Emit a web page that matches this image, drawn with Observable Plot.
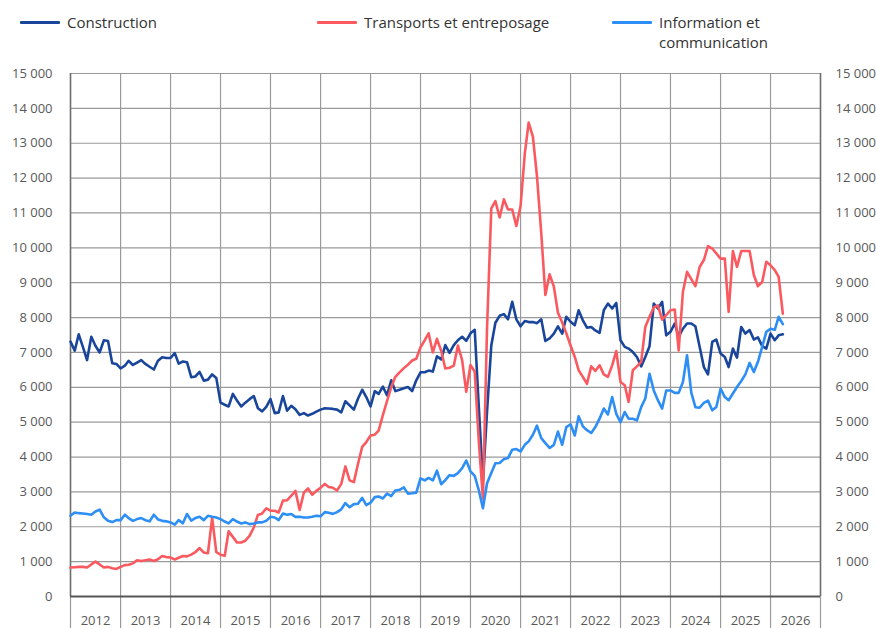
<!DOCTYPE html>
<html><head><meta charset="utf-8">
<script src="https://cdn.jsdelivr.net/npm/d3@7"></script>
<script src="https://cdn.jsdelivr.net/npm/@observablehq/plot@0.6"></script>
<style>
body{margin:0;background:#fff;font-family:"Open Sans",sans-serif;}
#legend{position:relative;height:55px;width:876px;}
.item{position:absolute;top:12px;display:flex;align-items:flex-start;font-size:15px;color:#333;line-height:20px;}
.sw{width:40px;height:3px;margin-top:9px;margin-right:7px;border-radius:1px;flex:none;}
#chart svg{display:block;}
</style></head><body>
<div id="legend"></div>
<div id="chart"></div>
<script>
// Monthly values, January 2012 – April 2026
const construction = [
  7310, 7050, 7520, 7150, 6780, 7450, 7190, 7000, 7350, 7330, 6690, 6670,
  6540, 6620, 6760, 6640, 6710, 6780, 6670, 6590, 6510, 6760, 6860, 6840,
  6840, 6980, 6680, 6740, 6720, 6290, 6310, 6440, 6190, 6220, 6370, 6270,
  5560, 5500, 5450, 5810, 5620, 5450, 5560, 5660, 5750, 5400, 5310, 5440,
  5660, 5260, 5280, 5750, 5330, 5470, 5370, 5210, 5260, 5190, 5240, 5300,
  5360, 5400, 5390, 5380, 5360, 5280, 5600, 5480, 5360, 5670, 5930, 5720,
  5450, 5890, 5810, 6020, 5770, 6200, 5890, 5930, 5970, 6010, 5890, 6200,
  6430, 6430, 6480, 6450, 6890, 6800, 7210, 6990, 7210, 7350, 7450, 7330,
  7550, 7650, 5500, 3300, 5300, 7200, 7850, 8050, 8100, 7950, 8450, 7950,
  7750, 7900, 7870, 7870, 7840, 7950, 7330, 7400, 7540, 7750, 7540, 8020,
  7880, 7780, 8210, 7920, 7710, 7730, 7630, 7560, 8210, 8400, 8260, 8420,
  7350, 7160, 7110, 7010, 6870, 6600, 6870, 7180, 8400, 8260, 8450, 7490,
  7590, 7830, 7450, 7680, 7830, 7830, 7750, 7160, 6580, 6370, 7300, 7370,
  6970, 6870, 6580, 7110, 6850, 7730, 7540, 7640, 7370, 7430, 7180, 7110,
  7540, 7350, 7490, 7520
];
const transports = [
  830, 840, 850, 850, 830, 920, 1000, 920, 830, 850, 810, 790,
  850, 900, 910, 950, 1040, 1020, 1040, 1060, 1020, 1070, 1160, 1130,
  1120, 1060, 1110, 1160, 1150, 1200, 1270, 1390, 1260, 1240, 2260, 1270,
  1200, 1170, 1870, 1710, 1550, 1550, 1600, 1740, 1980, 2340, 2380, 2530,
  2460, 2460, 2410, 2750, 2760, 2890, 3030, 2480, 2980, 3100, 2920, 3030,
  3120, 3230, 3140, 3120, 3040, 3230, 3730, 3330, 3280, 3800, 4290, 4430,
  4620, 4640, 4760, 5200, 5600, 6000, 6300, 6430, 6550, 6650, 6770, 6820,
  7150, 7350, 7550, 7000, 7390, 7050, 6540, 6560, 6620, 7200, 6780, 5870,
  6640, 6450, 4500, 2800, 7700, 11130, 11340, 10870, 11390, 11100, 11100, 10630,
  11200, 12710, 13590, 13190, 12040, 10420, 8650, 9240, 8890, 8140, 7860, 7550,
  7200, 6870, 6490, 6300, 6100, 6600, 6470, 6630, 6370, 6300, 6630, 7040,
  6150, 6060, 5580, 6490, 6600, 6730, 7730, 8020, 8290, 8350, 7940, 8070,
  8210, 8230, 7060, 8740, 9310, 9100, 8900, 9450, 9650, 10050, 9980, 9840,
  9690, 9690, 8160, 9910, 9450, 9910, 9910, 9910, 9220, 8900, 9020, 9600,
  9500, 9360, 9170, 8110
];
const information = [
  2320, 2410, 2390, 2380, 2365, 2345, 2440, 2490, 2270, 2170, 2135, 2190,
  2190, 2345, 2250, 2170, 2220, 2250, 2190, 2155, 2345, 2210, 2170, 2155,
  2125, 2060, 2190, 2100, 2365, 2175, 2250, 2285, 2190, 2315, 2285, 2265,
  2220, 2150, 2095, 2220, 2150, 2095, 2125, 2075, 2095, 2125, 2125, 2170,
  2285, 2265, 2190, 2380, 2345, 2365, 2285, 2285, 2265, 2265, 2285, 2315,
  2300, 2420, 2400, 2370, 2420, 2500, 2680, 2560, 2650, 2660, 2830, 2620,
  2690, 2850, 2870, 2810, 2950, 2880, 3040, 3060, 3130, 2950, 2960, 2980,
  3390, 3330, 3400, 3330, 3610, 3220, 3340, 3480, 3460, 3540, 3680, 3900,
  3590, 3460, 3060, 2530, 3250, 3540, 3820, 3830, 3940, 3970, 4210, 4230,
  4160, 4350, 4450, 4640, 4900, 4540, 4400, 4260, 4350, 4730, 4350, 4860,
  4940, 4620, 5170, 4880, 4770, 4690, 4860, 5100, 5390, 5220, 5720, 5240,
  5000, 5290, 5100, 5100, 5050, 5430, 5680, 6390, 5910, 5630, 5390, 5910,
  5910, 5840, 5840, 6150, 6920, 5850, 5430, 5415, 5550, 5620, 5340, 5435,
  5960, 5720, 5630, 5820, 6010, 6180, 6370, 6700, 6440, 6730, 7160, 7590,
  7680, 7650, 8020, 7810
];
const seriesNames = ["Construction", "Transports et entreposage", "Information et communication"];
const seriesColors = ["#19469b", "#fa5a5f", "#2d8ef5"];
const years = [2012, 2013, 2014, 2015, 2016, 2017, 2018, 2019, 2020, 2021, 2022, 2023, 2024, 2025, 2026];
const yTicks = [0, 1000, 2000, 3000, 4000, 5000, 6000, 7000, 8000, 9000, 10000, 11000, 12000, 13000, 14000, 15000];

// legend
const legendLeft = [20, 317, 612];
const legend = document.getElementById("legend");
seriesNames.forEach((name, i) => {
  const it = document.createElement("div");
  it.className = "item";
  it.style.left = legendLeft[i] + "px";
  const sw = document.createElement("div");
  sw.className = "sw";
  sw.style.background = seriesColors[i];
  const tx = document.createElement("div");
  tx.textContent = name;
  if (i === 2) tx.style.maxWidth = "120px";
  it.appendChild(sw); it.appendChild(tx);
  legend.appendChild(it);
});

const series = [construction, transports, information];
const rows = [];
series.forEach((vals, s) => vals.forEach((v, i) => rows.push({date: new Date(Date.UTC(2012, i, 1)), value: v, series: seriesNames[s]})));

const boundaries = [...years, 2027].map(y => new Date(Date.UTC(y, 0, 1)));
const mids = years.map(y => new Date(Date.UTC(y, 6, 2)));
const fmt = d => d3.format(",")(d).replace(/,/g, "\u00a0");

const chart = Plot.plot({
  width: 876, height: 573,
  marginLeft: 70, marginRight: 56, marginTop: 18, marginBottom: 32,
  style: {fontFamily: '"Open Sans", sans-serif', fontSize: "13px", background: "#fff", overflow: "visible"},
  x: {type: "utc", domain: [boundaries[0], boundaries[boundaries.length - 1]]},
  y: {domain: [0, 15000]},
  color: {domain: seriesNames, range: seriesColors},
  marks: [
    Plot.gridY(yTicks.filter(v => v > 0), {stroke: "#9a9a9a", strokeOpacity: 1, strokeWidth: 1.2}),
    Plot.gridX(boundaries, {stroke: "#9a9a9a", strokeOpacity: 1, strokeWidth: 1.2}),
    Plot.axisX({ticks: boundaries, tickSize: 32, tickFormat: () => "", stroke: "#9a9a9a", strokeWidth: 1.2, label: null}),
    Plot.axisX({ticks: mids, tickSize: 0, tickPadding: 19, tickFormat: d3.utcFormat("%Y"), fill: "#595959", fontSize: 13, label: null}),
    Plot.axisY({anchor: "left", ticks: yTicks, tickSize: 0, tickPadding: 18, tickFormat: fmt, fill: "#595959", fontSize: 13, label: null}),
    Plot.axisY({anchor: "right", ticks: yTicks, tickSize: 0, tickPadding: 15, tickFormat: fmt, fill: "#595959", fontSize: 13, label: null}),
    Plot.ruleX([boundaries[0], boundaries[boundaries.length - 1]], {stroke: "#6e6e6e", strokeWidth: 1.5}),
    Plot.ruleY([0], {stroke: "#555", strokeWidth: 2}),
    Plot.line(rows, {x: "date", y: "value", z: "series", stroke: "series", strokeWidth: 2.6, strokeLinejoin: "round"})
  ]
});
document.getElementById("chart").appendChild(chart);
</script>
</body></html>
